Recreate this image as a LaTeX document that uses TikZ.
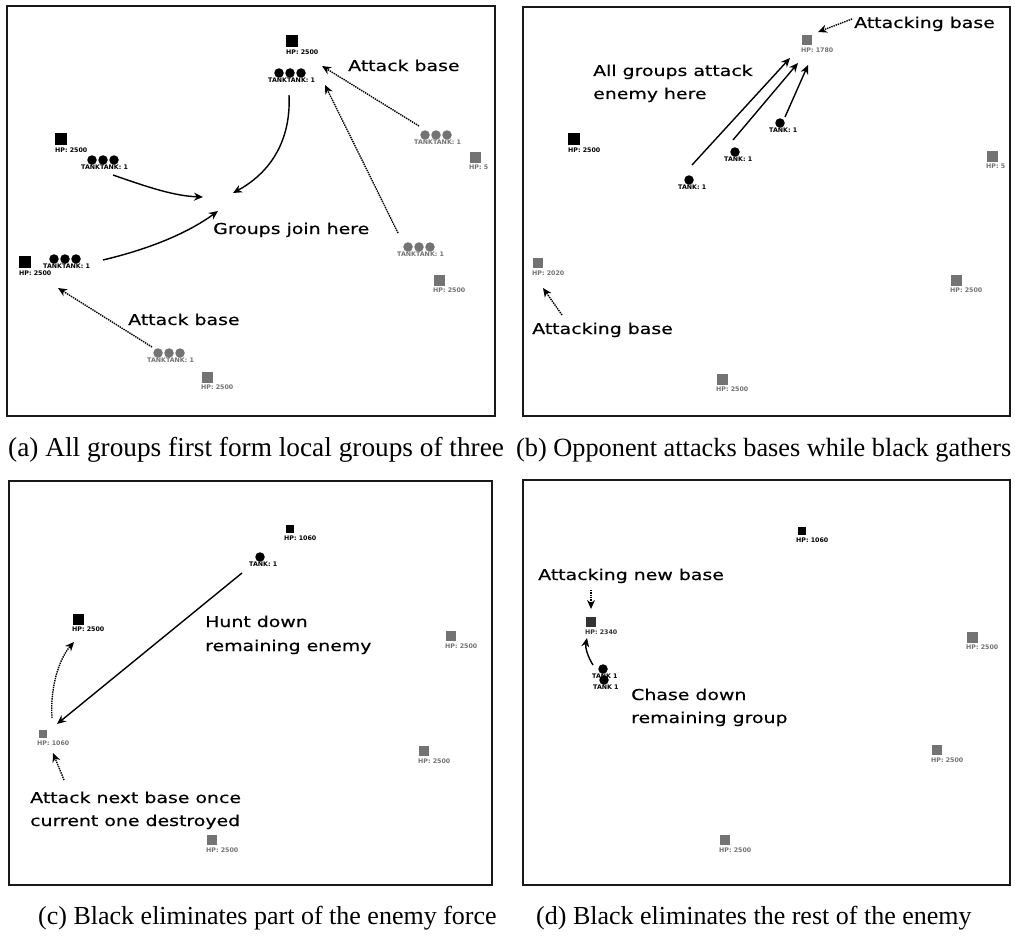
\documentclass[tikz,border=0pt]{standalone}
\usepackage{fontspec}
\newfontfamily\lblfont[FakeStretch=1.26,FakeBold=0.4]{DejaVu Sans}
\newfontfamily\capfont{Liberation Serif}
\newfontfamily\smallfont{DejaVu Sans}
\usetikzlibrary{arrows.meta}
\newcommand\tankgrp[6]{% name, x, y, colour, count, label
  \node[tiny, text=#4, anchor=west] (#1l) at ({#2-11},{#3+7}) {#6};
  \foreach \i in {1,...,#5}{%
    \node[tank, fill=#4] (#1t\i) at ({#2+11*(\i-1)},#3) {};
  }}
\newcommand\basegrp[6]{% name, x, y, colour, size, hp
  \node[basebox, fill=#4, minimum size=#5pt] (#1) at (#2,#3) {};
  \node[tiny, text=#4, anchor=west] (#1h) at ({#2-6},{#3+#5/2+5}) {HP: #6};}
\begin{document}
\begin{tikzpicture}[x=1pt,y=-1pt,
  frame/.style={draw=black!90, line width=1.7pt},
  lbl/.style={font=\lblfont\fontsize{15}{23}\selectfont, inner sep=0pt, anchor=base west},
  captxt/.style={font=\capfont\fontsize{27.3}{30}\selectfont, inner sep=0pt, anchor=base west},
  captxtm/.style={font=\capfont\fontsize{26.3}{30}\selectfont, inner sep=0pt, anchor=base west},
  captxtb/.style={font=\capfont\fontsize{26}{30}\selectfont, inner sep=0pt, anchor=base west},
  tiny/.style={font=\smallfont\bfseries\fontsize{6.3}{7}\selectfont, inner sep=0pt},
  basebox/.style={inner sep=0pt, draw=none},
  tank/.style={circle, inner sep=0pt, minimum size=9.5pt},
  arr/.style={line width=1.4pt, -{Stealth[length=9pt,width=8pt]}},
  darr/.style={arr, dash pattern=on 1.4pt off 0.9pt}]
\useasboundingbox (0,0) rectangle (1015,942);
\fill[white] (0,0) rectangle (1015,942);
\colorlet{gr}{black!55}
% ---------- frames ----------
\draw[frame] (7,6) rectangle (495,416);
\draw[frame] (523,7) rectangle (1010,416);
\draw[frame] (9,481) rectangle (492,885);
\draw[frame] (523,480) rectangle (1010,885);
% ---------- captions ----------
\node[captxt] (capa) at (8,456) {(a) All groups first form local groups of three};
\node[captxtm] (capb) at (516,456) {(b) Opponent attacks bases while black gathers};
\node[captxtb] (capc) at (38,924) {(c) Black eliminates part of the enemy force};
\node[captxtb] (capd) at (536,924) {(d) Black eliminates the rest of the enemy};
% ---------- panel (a) ----------
\basegrp{aB1}{292}{41}{black}{12}{2500}
\tankgrp{aT1}{279}{73}{black}{3}{TANKTANK: 1}
\basegrp{aB2}{61}{139}{black}{12}{2500}
\tankgrp{aT2}{92}{160}{black}{3}{TANKTANK: 1}
\basegrp{aB3}{25}{262}{black}{12}{2500}
\tankgrp{aT3}{54}{259}{black}{3}{TANKTANK: 1}
\tankgrp{aT4}{158}{353}{gr}{3}{TANKTANK: 1}
\basegrp{aB4}{207}{377}{gr}{11}{2500}
\tankgrp{aT5}{425}{135}{gr}{3}{TANKTANK: 1}
\basegrp{aB5}{475}{157}{gr}{11}{5}
\tankgrp{aT6}{408}{247}{gr}{3}{TANKTANK: 1}
\basegrp{aB6}{439}{280}{gr}{11}{2500}
\node[lbl] (aL1) at (348,71) {Attack base};
\node[lbl] (aL2) at (213,234) {Groups join here};
\node[lbl] (aL3) at (128,325) {Attack base};
\coordinate (aJ1) at (233,193);
\coordinate (aJ2) at (203,197);
\coordinate (aJ3) at (218,211);
\coordinate (aS1) at (289,95);
\coordinate (aS2) at (113,175);
\coordinate (aS3) at (103,260);
\draw[arr] (aS1) .. controls (291,135) and (275,170) .. (aJ1);
\draw[arr] (aS2) .. controls (150,188) and (175,196) .. (aJ2);
\draw[arr] (aS3) .. controls (145,250) and (185,235) .. (aJ3);
\coordinate (aS4) at (419,126); \coordinate (aE4) at (322,66);
\coordinate (aS5) at (398,233); \coordinate (aE5) at (325,85);
\coordinate (aS6) at (152,347); \coordinate (aE6) at (58,288);
\draw[darr] (aS4) -- (aE4);
\draw[darr] (aS5) -- (aE5);
\draw[darr] (aS6) -- (aE6);
% ---------- panel (b) ----------
\basegrp{bB1}{807}{40}{gr}{10}{1780}
\tankgrp{bT1}{689}{180}{black}{1}{TANK: 1}
\tankgrp{bT2}{735}{152}{black}{1}{TANK: 1}
\tankgrp{bT3}{780}{123}{black}{1}{TANK: 1}
\basegrp{bB2}{574}{139}{black}{12}{2500}
\basegrp{bB3}{992}{156}{gr}{11}{5}
\basegrp{bB4}{538}{263}{gr}{10}{2020}
\basegrp{bB5}{956}{280}{gr}{11}{2500}
\basegrp{bB6}{722}{379}{gr}{11}{2500}
\node[lbl] (bL1) at (854,28) {Attacking base};
\node[lbl] (bL2) at (593,76) {All groups attack};
\node[lbl] (bL3) at (593,99) {enemy here};
\node[lbl] (bL4) at (532,334) {Attacking base};
\coordinate (bS1) at (692,165); \coordinate (bE1) at (790,58);
\coordinate (bS2) at (733,140); \coordinate (bE2) at (798,63);
\coordinate (bS3) at (785,117); \coordinate (bE3) at (808,65);
\draw[arr] (bS1) -- (bE1);
\draw[arr] (bS2) -- (bE2);
\draw[arr] (bS3) -- (bE3);
\coordinate (bS4) at (852,19); \coordinate (bE4) at (818,32);
\coordinate (bS5) at (562,315); \coordinate (bE5) at (543,288);
\draw[darr] (bS4) -- (bE4);
\draw[darr] (bS5) -- (bE5);
% ---------- panel (c) ----------
\basegrp{cB1}{290}{529}{black}{8}{1060}
\tankgrp{cT1}{260}{557}{black}{1}{TANK: 1}
\basegrp{cB2}{78}{619}{black}{11}{2500}
\basegrp{cB3}{43}{734}{gr}{8}{1060}
\basegrp{cB4}{451}{636}{gr}{10}{2500}
\basegrp{cB5}{424}{751}{gr}{10}{2500}
\basegrp{cB6}{212}{840}{gr}{10}{2500}
\node[lbl] (cL1) at (205,627) {Hunt down};
\node[lbl] (cL2) at (205,651) {remaining enemy};
\node[lbl] (cL3) at (30,803) {Attack next base once};
\node[lbl] (cL4) at (30,826) {current one destroyed};
\coordinate (cS1) at (242,573); \coordinate (cE1) at (57,724);
\draw[arr] (cS1) -- (cE1);
\coordinate (cS2) at (52,718); \coordinate (cE2) at (74,642);
\draw[darr] (cS2) .. controls (50,690) and (58,660) .. (cE2);
\coordinate (cS3) at (64,780); \coordinate (cE3) at (53,753);
\draw[darr] (cS3) -- (cE3);
% ---------- panel (d) ----------
\basegrp{dB1}{802}{531}{black}{8}{1060}
\basegrp{dB2}{591}{622}{black!80}{10}{2340}
\tankgrp{dT1}{603}{669}{black}{1}{TANK 1}
\tankgrp{dT2}{604}{680}{black}{1}{TANK 1}
\basegrp{dB3}{972}{637}{gr}{11}{2500}
\basegrp{dB4}{937}{750}{gr}{10}{2500}
\basegrp{dB5}{725}{840}{gr}{10}{2500}
\node[lbl] (dL1) at (538,580) {Attacking new base};
\node[lbl] (dL2) at (631,700) {Chase down};
\node[lbl] (dL3) at (631,723) {remaining group};
\coordinate (dS1) at (591,590); \coordinate (dE1) at (591,609);
\draw[darr] (dS1) -- (dE1);
\coordinate (dS2) at (593,665); \coordinate (dE2) at (587,638);
\draw[arr] (dS2) .. controls (588,657) and (585,648) .. (dE2);
\end{tikzpicture}
\end{document}
